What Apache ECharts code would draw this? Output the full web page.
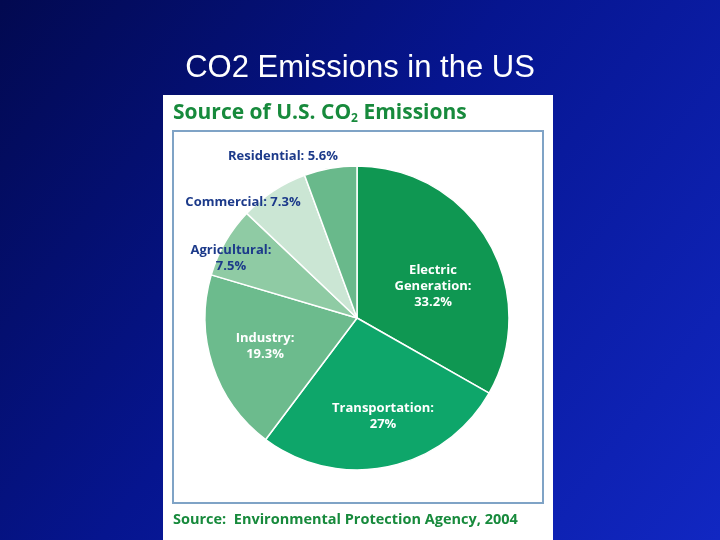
<!DOCTYPE html>
<html><head><meta charset="utf-8">
<script src="https://cdn.jsdelivr.net/npm/echarts@6/dist/echarts.min.js"></script>
<style>html,body{margin:0;padding:0;background:#06126e}#c{width:720px;height:540px}</style>
</head><body><div id="c"></div>
<script>
const categories = ['Electric\nGeneration:', 'Transportation:', 'Industry:', 'Agricultural:', 'Commercial:', 'Residential:'];
const values = [33.2, 27, 19.3, 7.5, 7.3, 5.6];
const valueLabels = ['33.2%', '27%', '19.3%', '7.5%', '7.3%', '5.6%'];
const sliceColors = ['#0f9752', '#0ea66a', '#6cbb8d', '#8fcba4', '#cbe6d4', '#69b98b'];
const insideIdx = [0, 1, 2];
// label anchor positions (layout only)
const labelPos = [[433, 286], [383, 416], [265, 346], [231, 258], [243, 202], [283, 156]];

const chart = echarts.init(document.getElementById('c'), null, {renderer: 'canvas'});
const data = categories.map((c, i) => ({
  name: c, value: values[i],
  itemStyle: {color: sliceColors[i]},
  label: {
    formatter: (insideIdx.includes(i) || i === 3) ? c + '\n' + valueLabels[i] : c + ' ' + valueLabels[i],
    color: insideIdx.includes(i) ? '#ffffff' : '#1c3a8a'
  }
}));
chart.setOption({
  backgroundColor: {type: 'linear', x: 0, y: 0, x2: 1, y2: 1, colorStops: [
    {offset: 0, color: '#020950'}, {offset: 0.45, color: '#06158f'}, {offset: 1, color: '#1127c2'}]},
  graphic: [
    {type: 'rect', shape: {x: 163, y: 95, width: 390, height: 450}, style: {fill: '#ffffff'}, z: 0},
    {type: 'rect', shape: {x: 173, y: 131, width: 370, height: 372}, style: {fill: '#ffffff', stroke: '#7fa3c6', lineWidth: 2}, z: 0},
    {type: 'text', x: 360, y: 68, style: {text: 'CO2 Emissions in the US', fill: '#ffffff', align: 'center', verticalAlign: 'middle',
      fontSize: 31, fontFamily: '"Liberation Sans", Arial, sans-serif'}, z: 5},
    {type: 'text', x: 173, y: 101, style: {rich: {
        a: {fontSize: 21, fontWeight: 'bold', fontFamily: '"Open Sans", Lato, sans-serif', fill: '#178a3c', color: '#178a3c'},
        s: {fontSize: 12, fontWeight: 'bold', fontFamily: '"Open Sans", Lato, sans-serif', fill: '#178a3c', color: '#178a3c', padding: [12, 0, 0, 0]}},
      text: '{a|Source of U.S. CO}{s|2}{a| Emissions}'}, z: 5},
    {type: 'text', x: 173, y: 512, style: {text: 'Source:  Environmental Protection Agency, 2004', fill: '#178a3c',
      fontSize: 14.5, fontWeight: 'bold', fontFamily: '"Open Sans", Lato, sans-serif'}, z: 5}
  ],
  series: [{
    type: 'pie',
    center: [357, 318],
    radius: [0, 152],
    startAngle: 90,
    clockwise: true,
    animation: false,
    itemStyle: {borderColor: '#ffffff', borderWidth: 1.5},
    label: {show: true, position: 'inside', align: 'center',
      fontSize: 13, fontWeight: 'bold', fontFamily: '"Open Sans", Lato, sans-serif', lineHeight: 16},
    labelLine: {show: false},
    labelLayout: function (p) {
      const pos = labelPos[p.dataIndex];
      return {x: pos[0], y: pos[1], align: 'center', verticalAlign: 'middle'};
    },
    data: data
  }]
});
</script></body></html>
